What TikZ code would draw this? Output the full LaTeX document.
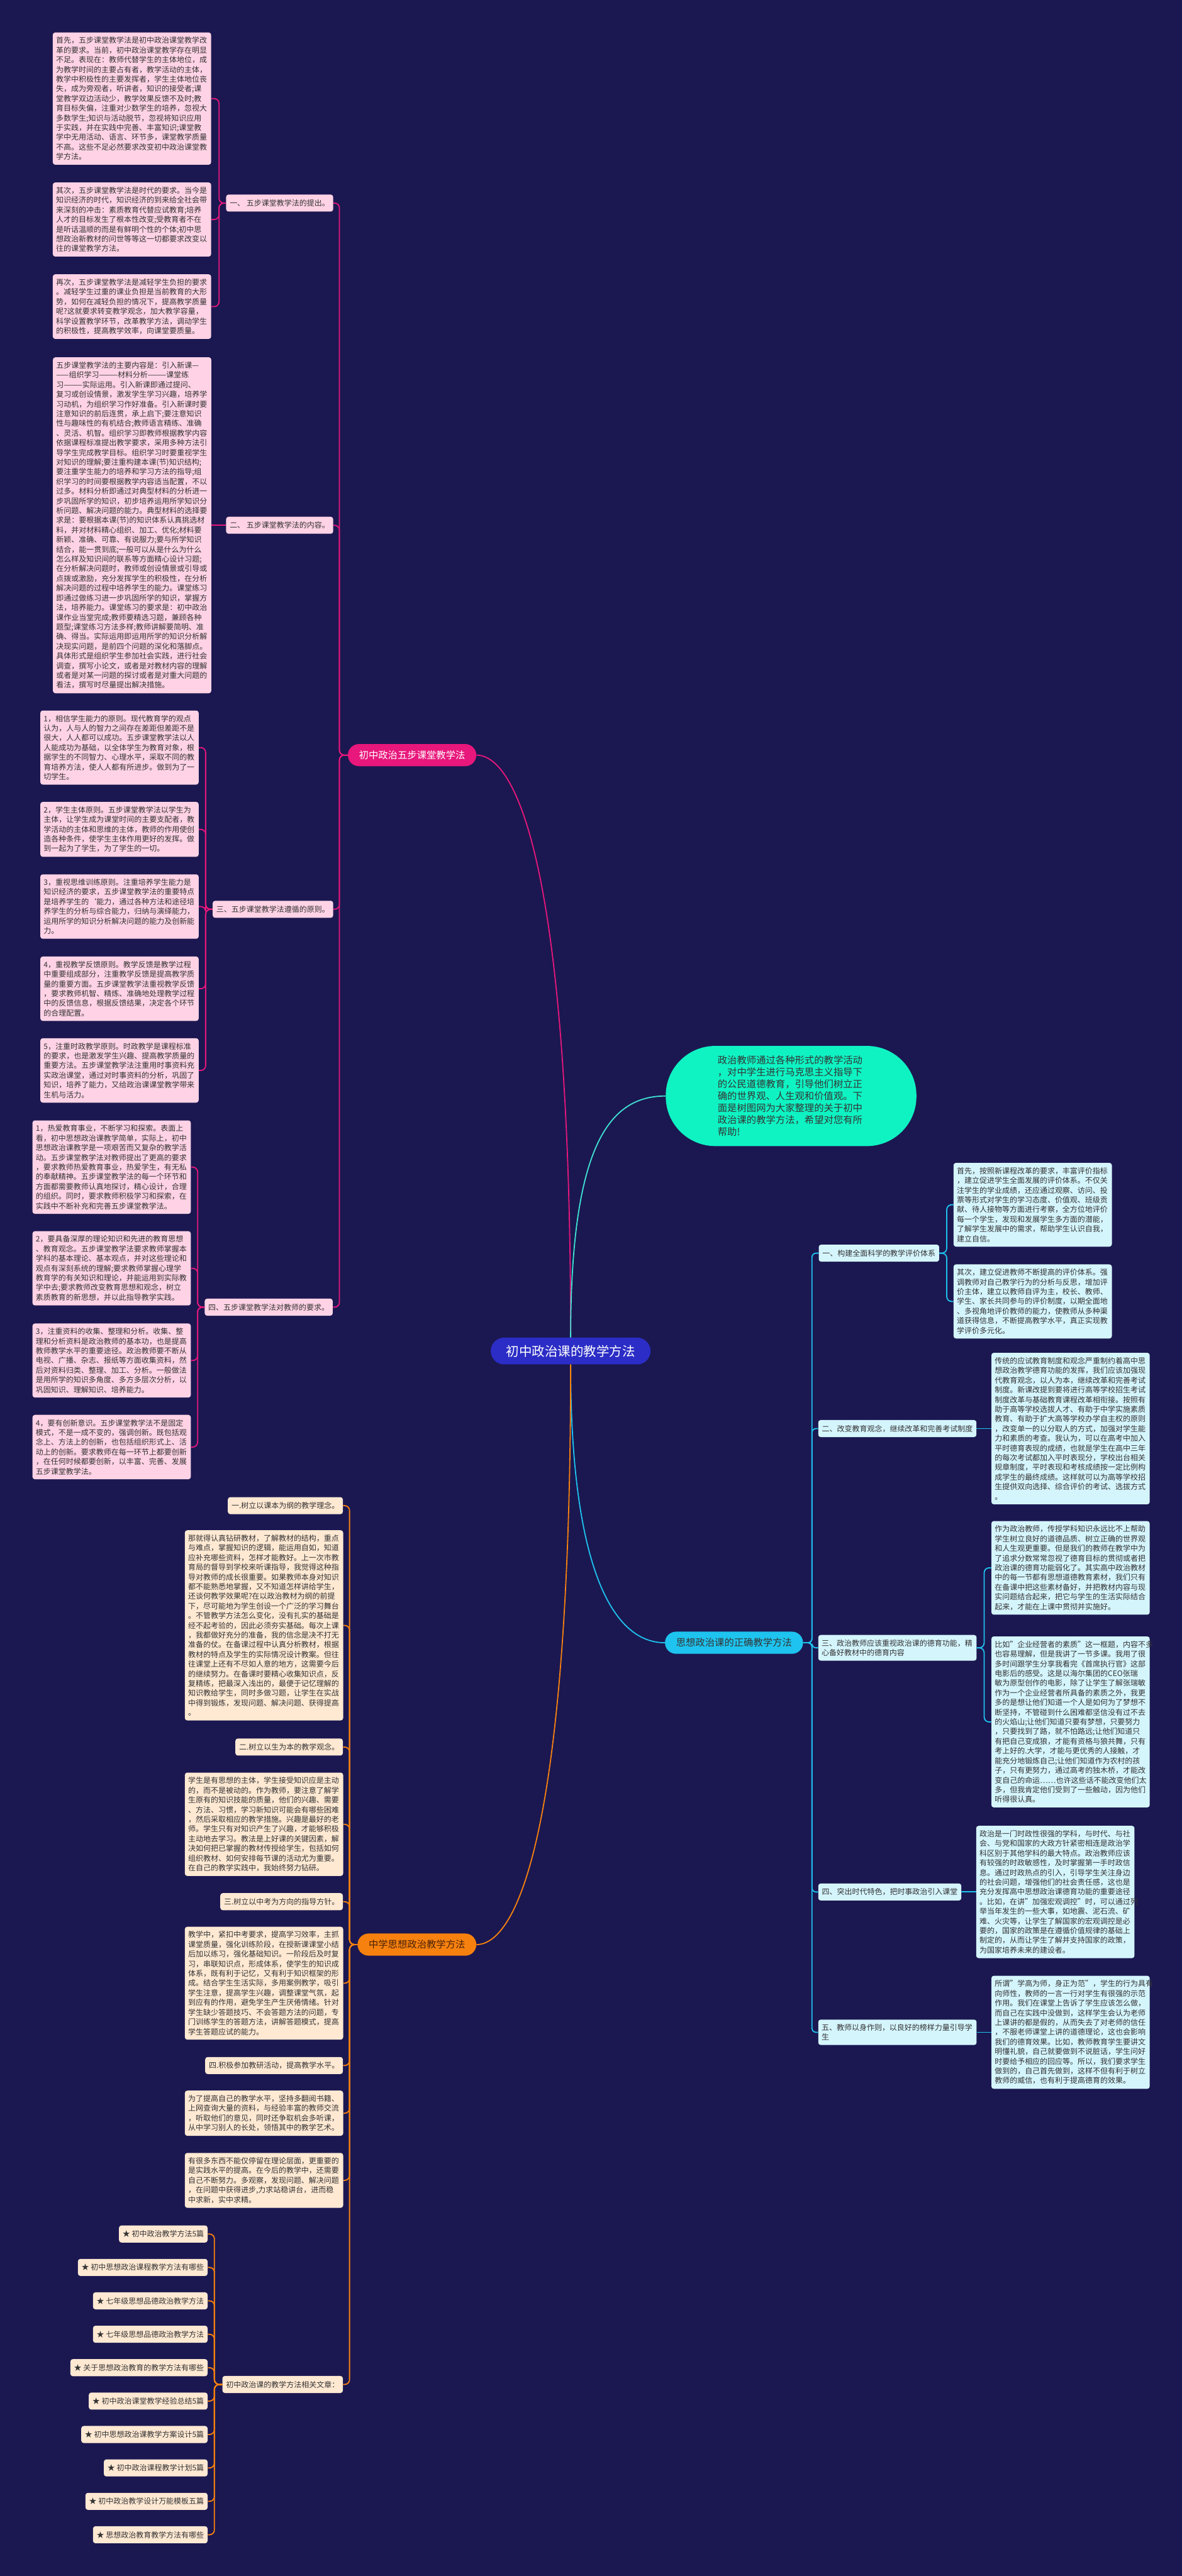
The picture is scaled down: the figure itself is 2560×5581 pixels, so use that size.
\documentclass[tikz,border=0pt]{standalone}
\usepackage{fontspec}
\setmainfont{Noto Sans CJK SC}
\definecolor{navybg}{HTML}{1B1851}
\definecolor{rootblue}{HTML}{2B2DC6}
\definecolor{fivepink}{HTML}{E8177B}
\definecolor{pinkfill}{HTML}{FFD3E5}
\definecolor{methorange}{HTML}{F7810F}
\definecolor{peachfill}{HTML}{FFE9D3}
\definecolor{rightcyan}{HTML}{1EC3EF}
\definecolor{icefill}{HTML}{D5F5FD}
\definecolor{introgreen}{HTML}{0FF3C3}
\definecolor{introline}{HTML}{3FE3D3}
\definecolor{inkdark}{HTML}{333333}
\definecolor{inkbrown}{HTML}{4A2208}
\tikzset{
  every node/.style={font=\fontsize{9.3pt}{11.95pt}\selectfont, text=inkdark},
  % long text boxes
  txtbox/.style={rounded corners=3pt, text width=187pt, align=left, inner xsep=4.1pt, inner ysep=5.5pt},
  pinkbox/.style={txtbox, fill=pinkfill},
  peachbox/.style={txtbox, fill=peachfill},
  icebox/.style={txtbox, fill=icefill},
  % short labels
  tag/.style={rounded corners=3pt, inner xsep=4.5pt, minimum height=21pt},
  pinktag/.style={tag, fill=pinkfill},
  peachtag/.style={tag, fill=peachfill},
  icetag/.style={tag, fill=icefill},
  icetagwide/.style={icetag, text width=187pt, align=left, inner xsep=4.1pt, inner ysep=5.5pt},
  % branch heads
  head/.style={font=\fontsize{11.9pt}{14pt}\selectfont, minimum height=27.3pt, inner xsep=13.7pt, rounded corners=13.6pt},
  rootnode/.style={fill=rootblue, text=white, font=\fontsize{15.9pt}{18pt}\selectfont, minimum width=197pt, minimum height=33pt, inner sep=0pt, rounded corners=16.5pt},
  introblob/.style={fill=introgreen, text=inkdark, font=\fontsize{11.9pt}{14.8pt}\selectfont, text width=181pt, align=left, minimum width=309pt, minimum height=123.5pt, rounded corners=61pt},
  % connectors
  wire/.style={line width=1.4pt, rounded corners=6pt},
  pinkwire/.style={wire, draw=fivepink},
  orangewire/.style={wire, draw=methorange},
  cyanwire/.style={wire, draw=rightcyan},
}

\begin{document}
\begin{tikzpicture}[x=0.02cm, y=-0.02cm]
  \useasboundingbox (0,0) rectangle (2560,5581);
  \fill[navybg] (0,0) rectangle (2560,5581);

  % centre
  \node[rootnode] (root) at (1236,2927) {初中政治课的教学方法};
  \node[introblob] (intro) at (1713.5,2374.5) {政治教师通过各种形式的教学活动\\，对中学生进行马克思主义指导下\\的公民道德教育，引导他们树立正\\确的世界观、人生观和价值观。下\\面是树图网为大家整理的关于初中\\政治课的教学方法，希望对您有所\\帮助!};

  % five-step branch
  \node[head, fill=fivepink, text=white, anchor=east] (five) at (1032,1636) {初中政治五步课堂教学法};
  \node[pinktag, anchor=east] (p1) at (722,440) {一、 五步课堂教学法的提出。};
  \node[pinkbox, anchor=north west] (p1a) at (114,70) {首先，五步课堂教学法是初中政治课堂教学改\\革的要求。当前，初中政治课堂教学存在明显\\不足。表现在：教师代替学生的主体地位，成\\为教学时间的主要占有者，教学活动的主体，\\教学中积极性的主要发挥者，学生主体地位丧\\失，成为旁观者，听讲者，知识的接受者;课\\堂教学双边活动少，教学效果反馈不及时;教\\育目标失偏，注重对少数学生的培养，忽视大\\多数学生;知识与活动脱节，忽视将知识应用\\于实践，并在实践中完善、丰富知识;课堂教\\学中无用活动、语言、环节多，课堂教学质量\\不高。这些不足必然要求改变初中政治课堂教\\学方法。};
  \node[pinkbox, anchor=north west] (p1b) at (114,395) {其次，五步课堂教学法是时代的要求。当今是\\知识经济的时代，知识经济的到来给全社会带\\来深刻的冲击：素质教育代替应试教育;培养\\人才的目标发生了根本性改变;受教育者不在\\是听话温顺的而是有鲜明个性的个体;初中思\\想政治新教材的问世等等这一切都要求改变以\\往的课堂教学方法。};
  \node[pinkbox, anchor=north west] (p1c) at (114,594) {再次，五步课堂教学法是减轻学生负担的要求\\。减轻学生过重的课业负担是当前教育的大形\\势，如何在减轻负担的情况下，提高教学质量\\呢?这就要求转变教学观念，加大教学容量，\\科学设置教学环节，改革教学方法，调动学生\\的积极性，提高教学效率，向课堂要质量。};

  \node[pinktag, anchor=east] (p2) at (722,1138) {二、 五步课堂教学法的内容。};
  \node[pinkbox, anchor=east] (p2a) at (458,1138) {五步课堂教学法的主要内容是：引入新课—\\——组织学习———材料分析———课堂练\\习———实际运用。引入新课即通过提问、\\复习或创设情景，激发学生学习兴趣，培养学\\习动机，为组织学习作好准备。引入新课时要\\注意知识的前后连贯，承上启下;要注意知识\\性与趣味性的有机结合;教师语言精练、准确\\、灵活、机智。组织学习即教师根据教学内容\\依据课程标准提出教学要求，采用多种方法引\\导学生完成教学目标。组织学习时要重视学生\\对知识的理解;要注重构建本课(节)知识结构;\\要注重学生能力的培养和学习方法的指导;组\\织学习的时间要根据教学内容适当配置，不以\\过多。材料分析即通过对典型材料的分析进一\\步巩固所学的知识，初步培养运用所学知识分\\析问题、解决问题的能力。典型材料的选择要\\求是：要根据本课(节)的知识体系认真挑选材\\料，并对材料精心组织、加工、优化;材料要\\新颖、准确、可靠、有说服力;要与所学知识\\结合，能一贯到底;一般可以从是什么为什么\\怎么样及知识间的联系等方面精心设计习题;\\在分析解决问题时，教师或创设情景或引导或\\点拨或激励，充分发挥学生的积极性，在分析\\解决问题的过程中培养学生的能力。课堂练习\\即通过做练习进一步巩固所学的知识，掌握方\\法，培养能力。课堂练习的要求是：初中政治\\课作业当堂完成;教师要精选习题，兼顾各种\\题型;课堂练习方法多样;教师讲解要简明、准\\确、得当。实际运用即运用所学的知识分析解\\决现实问题，是前四个问题的深化和落脚点。\\具体形式是组织学生参加社会实践，进行社会\\调查，撰写小论文，或者是对教材内容的理解\\或者是对某一问题的探讨或者是对重大问题的\\看法，撰写时尽量提出解决措施。};

  \node[pinktag, anchor=east] (p3) at (722,1970) {三、五步课堂教学法遵循的原则。};
  \node[pinkbox, anchor=north west] (p3a) at (87,1539) {1，相信学生能力的原则。现代教育学的观点\\认为，人与人的智力之间存在差距但差距不是\\很大，人人都可以成功。五步课堂教学法以人\\人能成功为基础，以全体学生为教育对象，根\\据学生的不同智力、心理水平，采取不同的教\\育培养方法，使人人都有所进步。做到为了一\\切学生。};
  \node[pinkbox, anchor=north west] (p3b) at (87,1737) {2，学生主体原则。五步课堂教学法以学生为\\主体，让学生成为课堂时间的主要支配者，教\\学活动的主体和思维的主体，教师的作用使创\\造各种条件，使学生主体作用更好的发挥。做\\到一起为了学生，为了学生的一切。};
  \node[pinkbox, anchor=north west] (p3c) at (87,1894) {3，重视思维训练原则。注重培养学生能力是\\知识经济的要求，五步课堂教学法的重要特点\\是培养学生的`能力，通过各种方法和途径培\\养学生的分析与综合能力，归纳与演绎能力，\\运用所学的知识分析解决问题的能力及创新能\\力。};
  \node[pinkbox, anchor=north west] (p3d) at (87,2072) {4，重视教学反馈原则。教学反馈是教学过程\\中重要组成部分，注重教学反馈是提高教学质\\量的重要方面。五步课堂教学法重视教学反馈\\，要求教师机智、精炼、准确地处理教学过程\\中的反馈信息，根据反馈结果，决定各个环节\\的合理配置。};
  \node[pinkbox, anchor=north west] (p3e) at (87,2249) {5，注重时政教学原则。时政教学是课程标准\\的要求，也是激发学生兴趣、提高教学质量的\\重要方法。五步课堂教学法注重用时事资料充\\实政治课堂，通过对时事资料的分析，巩固了\\知识，培养了能力，又给政治课课堂教学带来\\生机与活力。};

  \node[pinktag, anchor=east] (p4) at (721,2832) {四、五步课堂教学法对教师的要求。};
  \node[pinkbox, anchor=north west] (p4a) at (70,2427) {1，热爱教育事业，不断学习和探索。表面上\\看，初中思想政治课教学简单，实际上，初中\\思想政治课教学是一项艰苦而又复杂的教学活\\动。五步课堂教学法对教师提出了更高的要求\\，要求教师热爱教育事业，热爱学生，有无私\\的奉献精神。五步课堂教学法的每一个环节和\\方面都需要教师认真地探讨，精心设计，合理\\的组织。同时，要求教师积极学习和探索，在\\实践中不断补充和完善五步课堂教学法。};
  \node[pinkbox, anchor=north west] (p4b) at (70,2667) {2，要具备深厚的理论知识和先进的教育思想\\、教育观念。五步课堂教学法要求教师掌握本\\学科的基本理论、基本观点，并对这些理论和\\观点有深刻系统的理解;要求教师掌握心理学\\教育学的有关知识和理论，并能运用到实际教\\学中去;要求教师改变教育思想和观念，树立\\素质教育的新思想，并以此指导教学实践。};
  \node[pinkbox, anchor=north west] (p4c) at (70,2867) {3，注重资料的收集、整理和分析。收集、整\\理和分析资料是政治教师的基本功，也是提高\\教师教学水平的重要途径。政治教师要不断从\\电视、广播、杂志、报纸等方面收集资料，然\\后对资料归类、整理、加工、分析。一般做法\\是用所学的知识多角度、多方多层次分析，以\\巩固知识、理解知识、培养能力。};
  \node[pinkbox, anchor=north west] (p4d) at (70,3065) {4，要有创新意识。五步课堂教学法不是固定\\模式，不是一成不变的，强调创新。既包括观\\念上、方法上的创新，也包括组织形式上、活\\动上的创新。要求教师在每一环节上都要创新\\，在任何时候都要创新，以丰富、完善、发展\\五步课堂教学法。};

  % method branch
  \node[head, fill=methorange, text=inkbrown, anchor=east] (meth) at (1032,4213) {中学思想政治教学方法};
  \node[peachtag, anchor=east] (m1) at (743,3262) {一.树立以课本为纲的教学理念。};
  \node[peachbox, anchor=north west] (m1a) at (400,3315) {那就得认真钻研教材，了解教材的结构，重点\\与难点，掌握知识的逻辑，能运用自如，知道\\应补充哪些资料，怎样才能教好。上一次市教\\育局的督导到学校来听课指导，我觉得这种指\\导对教师的成长很重要。如果教师本身对知识\\都不能熟悉地掌握，又不知道怎样讲给学生，\\还谈何教学效果呢?在以政治教材为纲的前提\\下，尽可能地为学生创设一个广泛的学习舞台\\。不管教学方法怎么变化，没有扎实的基础是\\经不起考验的，因此必须夯实基础。每次上课\\，我都做好充分的准备，我的信念是决不打无\\准备的仗。在备课过程中认真分析教材，根据\\教材的特点及学生的实际情况设计教案。但往\\往课堂上还有不尽如人意的地方，这需要今后\\的继续努力。在备课时要精心收集知识点，反\\复精练，把最深入浅出的，最便于记忆理解的\\知识教给学生，同时多做习题，让学生在实战\\中得到锻炼，发现问题、解决问题、获得提高\\。};
  \node[peachtag, anchor=east] (m2) at (743,3785) {二.树立以生为本的教学观念。};
  \node[peachbox, anchor=north west] (m2a) at (400,3840) {学生是有思想的主体，学生接受知识应是主动\\的，而不是被动的。作为教师，要注意了解学\\生原有的知识技能的质量，他们的兴趣、需要\\、方法、习惯，学习新知识可能会有哪些困难\\，然后采取相应的教学措施。兴趣是最好的老\\师。学生只有对知识产生了兴趣，才能够积极\\主动地去学习。教法是上好课的关键因素，解\\决如何把已掌握的教材传授给学生，包括如何\\组织教材、如何安排每节课的活动尤为重要。\\在自己的教学实践中，我始终努力钻研。};
  \node[peachtag, anchor=east] (m3) at (743,4120) {三.树立以中考为方向的指导方针。};
  \node[peachbox, anchor=north west] (m3a) at (400,4174) {教学中，紧扣中考要求，提高学习效率，主抓\\课堂质量，强化训练阶段，在授新课课堂小结\\后加以练习，强化基础知识。一阶段后及时复\\习，串联知识点，形成体系，使学生的知识成\\体系，既有利于记忆，又有利于知识框架的形\\成。结合学生生活实际，多用案例教学，吸引\\学生注意，提高学生兴趣，调整课堂气氛，起\\到应有的作用，避免学生产生厌倦情绪。针对\\学生缺少答题技巧、不会答题方法的问题，专\\门训练学生的答题方法，讲解答题模式，提高\\学生答题应试的能力。};
  \node[peachtag, anchor=east] (m4) at (743,4475) {四.积极参加教研活动，提高教学水平。};
  \node[peachbox, anchor=north west] (m4a) at (400,4529) {为了提高自己的教学水平，坚持多翻阅书籍、\\上网查询大量的资料，与经验丰富的教师交流\\，听取他们的意见，同时还争取机会多听课，\\从中学习别人的长处，领悟其中的教学艺术。};
  \node[peachbox, anchor=north west] (m4b) at (400,4664) {有很多东西不能仅停留在理论层面，更重要的\\是实践水平的提高。在今后的教学中，还需要\\自己不断努力。多观察，发现问题、解决问题\\，在问题中获得进步,力求站稳讲台，进而稳\\中求新，实中求精。};
  \node[peachtag, anchor=east] (m5) at (743,5166) {初中政治课的教学方法相关文章：};

  % related articles
  \foreach \txt [count=\i] in {初中政治教学方法5篇, 初中思想政治课程教学方法有哪些, 七年级思想品德政治教学方法, 七年级思想品德政治教学方法, 关于思想政治教育的教学方法有哪些, 初中政治课堂教学经验总结5篇, 初中思想政治课教学方案设计5篇, 初中政治课程教学计划5篇, 初中政治教学设计万能模板五篇, 思想政治教育教学方法有哪些} {
    \node[peachtag, anchor=east] (link\i) at (450,{4840+72.4*(\i-1)}) {★ \txt};
    \draw[orangewire] (m5.west) -- ++(-17,0) |- (link\i.east);
  }

  % right branch
  \node[head, fill=rightcyan, text=inkdark, anchor=west] (right) at (1440,3559) {思想政治课的正确教学方法};
  \node[icetag, anchor=west] (r1) at (1773,2715) {一、构建全面科学的教学评价体系};
  \node[icebox, anchor=north west] (r1a) at (2065,2519) {首先，按照新课程改革的要求，丰富评价指标\\，建立促进学生全面发展的评价体系。不仅关\\注学生的学业成绩，还应通过观察、访问、投\\票等形式对学生的学习态度、价值观、班级贡\\献、待人接物等方面进行考察，全方位地评价\\每一个学生，发现和发展学生多方面的潜能，\\了解学生发展中的需求，帮助学生认识自我，\\建立自信。};
  \node[icebox, anchor=north west] (r1b) at (2065,2739) {其次，建立促进教师不断提高的评价体系。强\\调教师对自己教学行为的分析与反思，增加评\\价主体，建立以教师自评为主，校长、教师、\\学生、家长共同参与的评价制度，以期全面地\\、多视角地评价教师的能力，使教师从多种渠\\道获得信息，不断提高教学水平，真正实现教\\学评价多元化。};
  \node[icetag, anchor=west] (r2) at (1772,3095) {二、改变教育观念，继续改革和完善考试制度};
  \node[icebox, anchor=west] (r2a) at (2147,3095) {传统的应试教育制度和观念严重制约着高中思\\想政治教学德育功能的发挥，我们应该加强现\\代教育观念，以人为本，继续改革和完善考试\\制度。新课改提到要将进行高等学校招生考试\\制度改革与基础教育课程改革相衔接。按照有\\助于高等学校选拔人才、有助于中学实施素质\\教育、有助于扩大高等学校办学自主权的原则\\，改变单一的以分取人的方式，加强对学生能\\力和素质的考查。我认为，可以在高考中加入\\平时德育表现的成绩，也就是学生在高中三年\\的每次考试都加入平时表现分，学校出台相关\\规章制度，平时表现和考核成绩按一定比例构\\成学生的最终成绩。这样就可以为高等学校招\\生提供双向选择、综合评价的考试、选拔方式\\。};
  \node[icetagwide, anchor=west] (r3) at (1772,3570) {三、政治教师应该重视政治课的德育功能，精\\心备好教材中的德育内容};
  \node[icebox, anchor=north west] (r3a) at (2147,3295) {作为政治教师，传授学科知识永远比不上帮助\\学生树立良好的道德品质、树立正确的世界观\\和人生观更重要。但是我们的教师在教学中为\\了追求分数常常忽视了德育目标的贯彻或者把\\政治课的德育功能弱化了。其实高中政治教材\\中的每一节都有思想道德教育素材，我们只有\\在备课中把这些素材备好，并把教材内容与现\\实问题结合起来，把它与学生的生活实际结合\\起来，才能在上课中贯彻并实施好。};
  \node[icebox, anchor=north west] (r3b) at (2147,3545) {比如"企业经营者的素质"这一框题，内容不多\\也容易理解，但是我讲了一节多课。我用了很\\多时间跟学生分享我看完《首席执行官》这部\\电影后的感受。这是以海尔集团的CEO张瑞\\敏为原型创作的电影，除了让学生了解张瑞敏\\作为一个企业经营者所具备的素质之外，我更\\多的是想让他们知道一个人是如何为了梦想不\\断坚持，不管碰到什么困难都坚信没有过不去\\的火焰山;让他们知道只要有梦想，只要努力\\，只要找到了路，就不怕路远;让他们知道只\\有把自己变成狼，才能有资格与狼共舞，只有\\考上好的.大学，才能与更优秀的人接触，才\\能充分地锻炼自己;让他们知道作为农村的孩\\子，只有更努力，通过高考的独木桥，才能改\\变自己的命运……也许这些话不能改变他们太\\多，但我肯定他们受到了一些触动，因为他们\\听得很认真。};
  \node[icetag, anchor=west] (r4) at (1772,4099) {四、突出时代特色，把时事政治引入课堂};
  \node[icebox, anchor=west] (r4a) at (2114,4099) {政治是一门时政性很强的学科，与时代、与社\\会、与党和国家的大政方针紧密相连是政治学\\科区别于其他学科的最大特点。政治教师应该\\有较强的时政敏感性，及时掌握第一手时政信\\息。通过时政热点的引入，引导学生关注身边\\的社会问题，增强他们的社会责任感，这也是\\充分发挥高中思想政治课德育功能的重要途径\\。比如，在讲"加强宏观调控"时，可以通过列\\举当年发生的一些大事，如地震、泥石流、矿\\难、火灾等，让学生了解国家的宏观调控是必\\要的，国家的政策是在遵循价值规律的基础上\\制定的，从而让学生了解并支持国家的政策，\\为国家培养未来的建设者。};
  \node[icetagwide, anchor=west] (r5) at (1772,4403) {五、教师以身作则，以良好的榜样力量引导学\\生};
  \node[icebox, anchor=west] (r5a) at (2147,4403) {所谓"学高为师，身正为范"，学生的行为具有\\向师性，教师的一言一行对学生有很强的示范\\作用。我们在课堂上告诉了学生应该怎么做，\\而自己在实践中没做到，这样学生会认为老师\\上课讲的都是假的，从而失去了对老师的信任\\，不服老师课堂上讲的道德理论，这也会影响\\我们的德育效果。比如，教师教育学生要讲文\\明懂礼貌，自己就要做到不说脏话，学生问好\\时要给予相应的回应等。所以，我们要求学生\\做到的，自己首先做到，这样不但有利于树立\\教师的威信，也有利于提高德育的效果。};

  % main curves
  \draw[line width=1.4pt, draw=fivepink] (root.north) .. controls +(0,-1000) and +(90,0) .. (five.east);
  \draw[line width=1.4pt, draw=introline] (root.north) .. controls +(0,-420) and +(-120,0) .. (intro.west);
  \draw[line width=1.4pt, draw=rightcyan] (root.south) .. controls +(0,420) and +(-120,0) .. (right.west);
  \draw[line width=1.4pt, draw=methorange] (root.south) .. controls +(0,1000) and +(90,0) .. (meth.east);

  % five-step wires
  \foreach \t in {p1,p2,p3,p4}
    \draw[pinkwire] (five.west) -- ++(-18,0) |- (\t.east);
  \foreach \b in {p1a,p1b,p1c}
    \draw[pinkwire] (p1.west) -- ++(-15,0) |- (\b.east);
  \draw[pinkwire] (p2.west) -- (p2a.east);
  \foreach \b in {p3a,p3b,p3c,p3d,p3e}
    \draw[pinkwire] (p3.west) -- ++(-15,0) |- (\b.east);
  \foreach \b in {p4a,p4b,p4c,p4d}
    \draw[pinkwire] (p4.west) -- ++(-15,0) |- (\b.east);

  % method wires
  \foreach \t in {m1,m1a,m2,m2a,m3,m3a,m4,m4a,m4b,m5}
    \draw[orangewire] (meth.west) -- ++(-17,0) |- (\t.east);

  % right wires
  \foreach \t in {r1,r2,r3,r4,r5}
    \draw[cyanwire, rounded corners=5pt] (right.east) -- ++(19,0) |- (\t.west);
  \foreach \b in {r1a,r1b}
    \draw[cyanwire] (r1.east) -- ++(16,0) |- (\b.west);
  \draw[cyanwire] (r2.east) -- (r2a.west);
  \foreach \b in {r3a,r3b}
    \draw[cyanwire] (r3.east) -- ++(16,0) |- (\b.west);
  \draw[cyanwire] (r4.east) -- (r4a.west);
  \draw[cyanwire] (r5.east) -- (r5a.west);
\end{tikzpicture}
\end{document}
